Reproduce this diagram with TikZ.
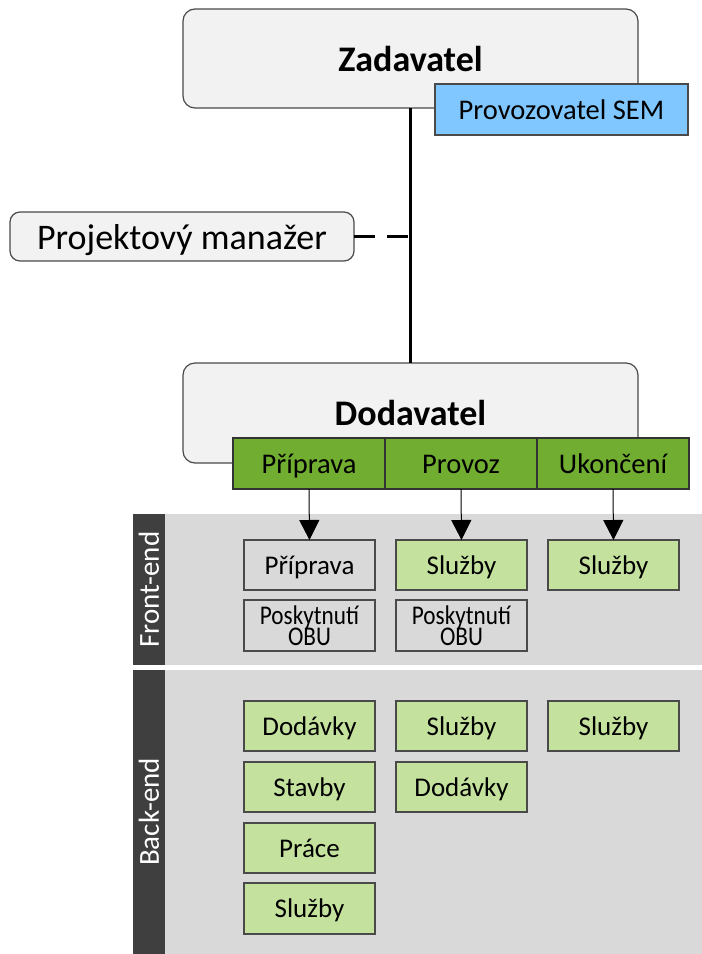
\documentclass[tikz,border=0pt]{standalone}
\usepackage{fontspec}
\setmainfont{Carlito}
\usetikzlibrary{arrows.meta}
\definecolor{boxfill}{HTML}{F2F2F2}
\definecolor{bordercol}{HTML}{4A4A4A}
\definecolor{semblue}{HTML}{80C6FF}
\definecolor{dgreen}{HTML}{70AD30}
\definecolor{lgreen}{HTML}{C4E29D}
\definecolor{panelgray}{HTML}{D9D9D9}
\definecolor{bargray}{HTML}{3F3F3F}
\tikzset{
  tc/.style={text height=0.9*#1, text depth=0.2*#1},
  roundbox/.style={draw=bordercol, line width=1.2bp, fill=boxfill, rounded corners=12bp,
    inner sep=0pt, outer sep=0pt, anchor=north west},
  sembox/.style={draw=bordercol, line width=1.2bp, fill=semblue, inner sep=0pt, outer sep=0pt,
    anchor=north west, minimum width=253bp, minimum height=51bp,
    font=\fontsize{28.5bp}{30bp}\selectfont, tc=28.5bp},
  phase/.style={draw=black!80, line width=1.2bp, fill=dgreen, inner sep=0pt, outer sep=0pt,
    anchor=north west, minimum width=152bp, minimum height=51bp,
    font=\fontsize{28.5bp}{30bp}\selectfont, tc=28.5bp},
  panel/.style={fill=panelgray, inner sep=0pt, outer sep=0pt, anchor=north west, minimum width=569bp},
  sidebar/.style={fill=bargray, inner sep=0pt, outer sep=0pt, anchor=north west, minimum width=32bp},
  sidelabel/.style={text=white, rotate=90, font=\fontsize{29bp}{30bp}\selectfont},
  item/.style={draw=bordercol, line width=1.2bp, inner sep=0pt, outer sep=0pt, anchor=north west,
    minimum width=131bp, minimum height=50bp, font=\fontsize{27bp}{28bp}\selectfont, tc=27bp},
  gitem/.style={item, fill=lgreen},
  pitem/.style={item, fill=panelgray},
  obu/.style={pitem, minimum height=51bp, text height={}, text depth={}},
  arr/.style={line width=1bp, -{Triangle[width=20bp,length=20bp]}},
}
\newcommand{\obutext}{\raisebox{-1bp}{\scalebox{0.86}[1]{\fontsize{27bp}{21bp}\selectfont\lineskiplimit=-100bp\vbox{\halign{\hfil##\hfil\cr Poskytnutí\cr OBU\cr}}}}}
\begin{document}
\begin{tikzpicture}[x=1bp,y=-1bp]
\useasboundingbox (0,0) rectangle (702,954);
% panels
\node[panel, minimum height=151bp] (fep) at (133,514) {};
\node[panel, minimum height=284bp] (bep) at (133,670) {};
\node[sidebar, minimum height=151bp] (feb) at (133,514) {};
\node[sidebar, minimum height=284bp] (beb) at (133,670) {};
\node[sidelabel] (fel) at (feb.center) {Front-end};
\node[sidelabel] (bel) at (beb.center) {Back-end};
% top boxes
\node[roundbox, minimum width=455bp, minimum height=99bp, font=\fontsize{36bp}{38bp}\selectfont\bfseries, tc=36bp] (zad) at (183,9) {Zadavatel};
\node[roundbox, minimum width=455bp, minimum height=100bp, font=\fontsize{36bp}{38bp}\selectfont\bfseries, tc=36bp] (dod) at (183,363) {Dodavatel};
\node[roundbox, rounded corners=10bp, minimum width=344bp, minimum height=49bp, font=\fontsize{36bp}{38bp}\selectfont, tc=36bp] (pm) at (10,212) {Projektový manažer};
\draw[line width=2.5bp] (zad.south) -- (dod.north);
\coordinate (pmj) at (pm.east -| zad.south);
\draw[line width=2.5bp, dash pattern=on 21bp off 12bp] (pm.east) -- (pmj);
\node[sembox] (sem) at (435,84) {Provozovatel SEM};
% phases
\node[phase] (p1) at (233,438) {Příprava};
\node[phase] (p2) at (385,438) {Provoz};
\node[phase] (p3) at (537,438) {Ukončení};
% front-end items
\node[pitem] (f11) at (244,540) {Příprava};
\node[gitem] (f21) at (396,540) {Služby};
\node[gitem] (f31) at (548,540) {Služby};
\node[obu] (f12) at (244,600) {\obutext};
\node[obu] (f22) at (396,600) {\obutext};
% back-end items
\node[gitem] (b11) at (244,701) {Dodávky};
\node[gitem] (b12) at (244,762) {Stavby};
\node[gitem] (b13) at (244,823) {Práce};
\node[gitem, minimum height=51bp] (b14) at (244,883) {Služby};
\node[gitem] (b21) at (396,701) {Služby};
\node[gitem] (b22) at (396,762) {Dodávky};
\node[gitem] (b31) at (548,701) {Služby};
% arrows
\draw[arr] (p1.south) -- (f11.north);
\draw[arr] (p2.south) -- (f21.north);
\draw[arr] (p3.south) -- (f31.north);
\end{tikzpicture}
\end{document}
